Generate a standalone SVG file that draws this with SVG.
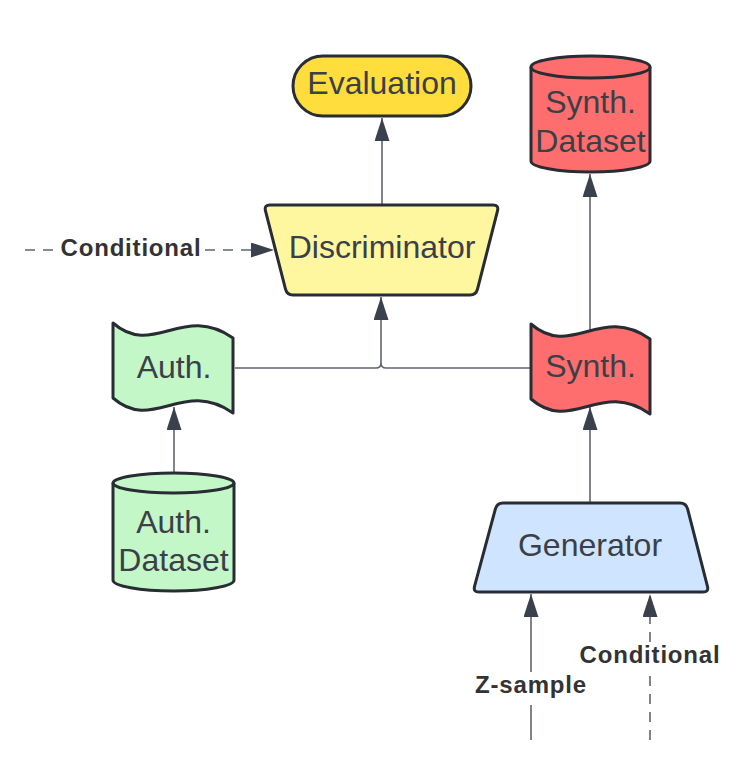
<svg xmlns="http://www.w3.org/2000/svg" width="747" height="776" viewBox="0 0 747 776">
<style>
.shape{stroke:#282c33;stroke-width:3;stroke-linejoin:round}
.t{font-family:"Liberation Sans",Arial,sans-serif;font-size:32px;fill:#3b4048;text-anchor:middle}
.lbl{font-family:"Liberation Sans",Arial,sans-serif;font-size:24px;font-weight:bold;fill:#333333;text-anchor:middle;letter-spacing:0.8px}
.c{fill:none;stroke:#5f6571;stroke-width:1.6}
.d{stroke-dasharray:10 8}
</style>
<defs>
<marker id="ah" viewBox="0 0 23 15" refX="23" refY="7.5" markerWidth="23" markerHeight="15" markerUnits="userSpaceOnUse" orient="auto">
<path d="M0,0 L23,7.5 L0,15 Z" fill="#3a414c"/>
</marker>
</defs>
<rect width="747" height="776" fill="#ffffff"/>
<g id="connectors">
<path class="c" d="M382,205 V118" marker-end="url(#ah)"/>
<path class="c" d="M590,331 V174" marker-end="url(#ah)"/>
<path class="c" d="M235,368 H376 Q381,368 381,363 V297" marker-end="url(#ah)"/>
<path class="c" d="M531,368 H386 Q381,368 381,363"/>
<path class="c" d="M174,473 V407" marker-end="url(#ah)"/>
<path class="c" d="M590,503 V407" marker-end="url(#ah)"/>
<path class="c" d="M531,740 V705"/>
<path class="c" d="M531,672 V594" marker-end="url(#ah)"/>
<path class="c d" d="M650,740 V672"/>
<path class="c d" d="M650,642 V594" marker-end="url(#ah)"/>
<path class="c d" d="M25,250 H58"/>
<path class="c d" d="M205,250 H274" marker-end="url(#ah)"/>
<text class="lbl" x="131" y="256">Conditional</text>
<text class="lbl" x="531" y="693">Z-sample</text>
<text class="lbl" x="650" y="663">Conditional</text>
</g>
<g id="evaluation">
<rect class="shape" x="293" y="56" width="178" height="60" rx="30" fill="#ffdd3c"/>
<text class="t" x="382" y="94">Evaluation</text>
</g>
<g id="discriminator">
<path class="shape" fill="#fff6a0" d="M270,205 H493 Q499,205 497.5,210.8 L477.5,289.2 Q476,295 470,295 H293 Q287,295 285.5,289.2 L265.5,210.8 Q264,205 270,205 Z"/>
<text class="t" x="382" y="258">Discriminator</text>
</g>
<g id="synth-dataset">
<path class="shape" fill="#ff6e6e" d="M531,67 A59.5,11 0 0 1 650,67 V161 A59.5,11 0 0 1 531,161 Z"/>
<path class="shape" fill="none" d="M531,67 A59.5,11 0 0 0 650,67"/>
<text class="t" x="590.5" y="113">Synth.</text>
<text class="t" x="590.5" y="152">Dataset</text>
</g>
<g id="auth">
<path class="shape" fill="#c3f7c8" d="M113,323 C153,358 183,303 233,338 V413 C183,378 153,433 113,398 Z"/>
<text class="t" x="174" y="378">Auth.</text>
</g>
<g id="synth">
<path class="shape" fill="#ff6e6e" d="M531,324 C571,359 601,304 650,339 V414 C601,379 571,434 531,399 Z"/>
<text class="t" x="590.5" y="377">Synth.</text>
</g>
<g id="auth-dataset">
<path class="shape" fill="#c3f7c8" d="M113,483 A60.5,10 0 0 1 234,483 V580 A60.5,11 0 0 1 113,580 Z"/>
<path class="shape" fill="none" d="M113,483 A60.5,10 0 0 0 234,483"/>
<text class="t" x="173.5" y="533">Auth.</text>
<text class="t" x="173.5" y="571">Dataset</text>
</g>
<g id="generator">
<path class="shape" fill="#cfe4ff" d="M503,503 H680 Q686,503 687.6,508.8 L707.4,586.2 Q709,592 703,592 H479 Q473,592 474.6,586.2 L495.4,508.8 Q497,503 503,503 Z"/>
<text class="t" x="590" y="556">Generator</text>
</g>
</svg>
